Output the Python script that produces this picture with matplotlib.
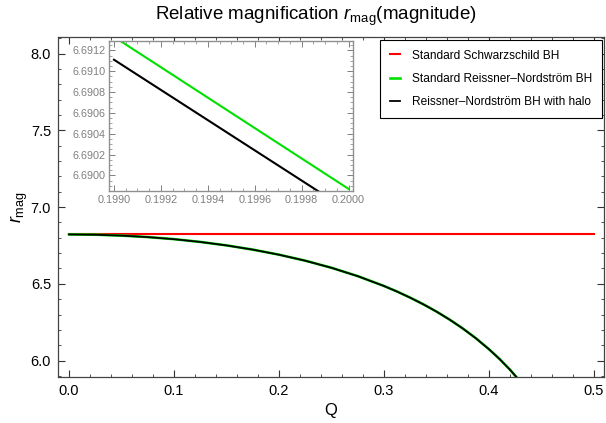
import matplotlib
matplotlib.use("Agg")
import matplotlib.pyplot as plt
import matplotlib.font_manager as fm
from matplotlib.ticker import MultipleLocator, FormatStrFormatter

# keep the regular-width Liberation Sans, not the Narrow cut
fm.fontManager.ttflist = [f for f in fm.fontManager.ttflist if "Narrow" not in f.fname]
plt.rcParams["font.family"] = ["Liberation Sans", "DejaVu Sans"]
plt.rcParams["mathtext.fontset"] = "custom"
plt.rcParams["mathtext.rm"] = "Liberation Sans"
plt.rcParams["mathtext.it"] = "Liberation Sans:italic"

# ---------------------------------------------------------------- data
q_schw = [0.0, 0.5]
r_schw = [6.8219, 6.8219]

q_curve = [0.0, 0.025, 0.05, 0.075, 0.1, 0.125, 0.15, 0.175, 0.2, 0.225, 0.25, 0.275,
           0.3, 0.3125, 0.325, 0.3375, 0.35, 0.3625, 0.375, 0.3875, 0.4, 0.41, 0.42, 0.43]
r_rn = [6.8219, 6.8200, 6.8143, 6.8046, 6.7910, 6.7730, 6.7504, 6.7229, 6.6899, 6.6507,
        6.6044, 6.5500, 6.4858, 6.4494, 6.4097, 6.3664, 6.3190, 6.2668, 6.2092, 6.1452,
        6.0738, 6.0103, 5.9402, 5.8621]
r_halo = [6.8217, 6.8198, 6.8141, 6.8044, 6.7908, 6.7728, 6.7502, 6.7227, 6.6897, 6.6505,
          6.6042, 6.5498, 6.4856, 6.4492, 6.4095, 6.3662, 6.3188, 6.2666, 6.2090, 6.1450,
          6.0736, 6.0101, 5.9400, 5.8619]

# zoomed inset
q_inset = [0.1990, 0.2000]
r_rn_inset = [6.69133, 6.68987]
r_halo_inset = [6.69111, 6.68966]

labels = ["Standard Schwarzschild BH", "Standard Reissner\u2013Nordstr\u00f6m BH",
          "Reissner\u2013Nordstr\u00f6m BH with halo"]

# ---------------------------------------------------------------- main plot
fig = plt.figure(figsize=(6.06, 4.23), dpi=100)
ax = fig.add_axes([0.0957, 0.1095, 0.901, 0.803])
ax.plot(q_schw, r_schw, color="#ff0000", lw=1.5, label=labels[0])
ax.plot(q_curve, r_rn, color="#00e000", lw=1.9, label=labels[1])
ax.plot(q_curve, r_halo, color="black", lw=1.3, label=labels[2])
ax.set_xlim(-0.0105, 0.5095)
ax.set_ylim(5.895, 8.108)
ax.xaxis.set_major_locator(MultipleLocator(0.1))
ax.xaxis.set_minor_locator(MultipleLocator(0.02))
ax.yaxis.set_major_locator(MultipleLocator(0.5))
ax.yaxis.set_minor_locator(MultipleLocator(0.1))
ax.xaxis.set_major_formatter(FormatStrFormatter("%.1f"))
ax.yaxis.set_major_formatter(FormatStrFormatter("%.1f"))
ax.tick_params(which="both", direction="in", top=True, right=True, labelsize=10.5, pad=5,
               color="#333333")
ax.tick_params(which="major", length=5, width=0.8)
ax.tick_params(which="minor", length=2.5, width=0.6)
for s in ax.spines.values():
    s.set_color("#444444"); s.set_linewidth(0.9)
ax.set_xlabel("Q", fontsize=12, labelpad=4)
ax.set_ylabel(r"$r_{\mathrm{mag}}$", fontsize=13)
ax.yaxis.set_label_coords(-0.052, 0.5)
fig.text(0.522, 0.962, r"Relative magnification $r_{\mathrm{mag}}$(magnitude)",
         ha="center", va="center", fontsize=13.5)

leg = ax.legend(loc="upper right", bbox_to_anchor=(0.9934, 0.9054), bbox_transform=fig.transFigure,
                fontsize=8.6, frameon=True, fancybox=False, edgecolor="black", framealpha=1,
                handlelength=0.9, handletextpad=1.0, labelspacing=0.95, borderpad=0.8,
                borderaxespad=0)
leg.get_frame().set_linewidth(0.8)

# ---------------------------------------------------------------- inset
ins = fig.add_axes([0.1804, 0.5485, 0.4026, 0.3546])
ins.plot(q_inset, r_rn_inset, color="#00e000", lw=1.5)
ins.plot(q_inset, r_halo_inset, color="black", lw=1.5)
ins.set_xlim(0.19898, 0.20002)
ins.set_ylim(6.68985, 6.69129)
ins.xaxis.set_major_locator(MultipleLocator(0.0002))
ins.xaxis.set_minor_locator(MultipleLocator(0.00005))
ins.yaxis.set_major_locator(MultipleLocator(0.0002))
ins.yaxis.set_minor_locator(MultipleLocator(0.00005))
ins.xaxis.set_major_formatter(FormatStrFormatter("%.4f"))
ins.yaxis.set_major_formatter(FormatStrFormatter("%.4f"))
ins.tick_params(which="both", direction="in", top=True, right=True, labelsize=7.8,
                labelcolor="#808080", color="#808080", pad=3)
ins.tick_params(which="major", length=4, width=0.7)
ins.tick_params(which="minor", length=2, width=0.5)
for s in ins.spines.values():
    s.set_color("#909090"); s.set_linewidth(1.0)

fig.savefig("out.png", dpi=100)
